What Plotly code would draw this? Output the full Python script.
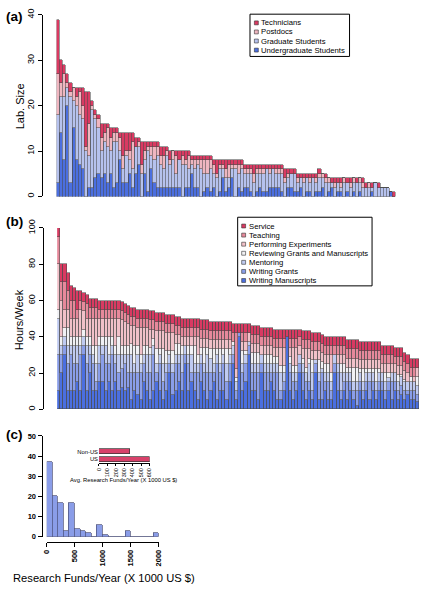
import plotly.graph_objects as go

W, H = 425, 590
FONT = "Liberation Sans, Arial, Helvetica, sans-serif"

# ---------------- Panel (a): lab size ----------------
lab_names = ["Undergraduate Students", "Graduate Students", "Postdocs", "Technicians"]
lab_colors = ["#4b6fe0", "#b6c2ee", "#efb6c0", "#d93a62"]
undergrad = [3, 14, 8, 20, 3, 15, 8, 7, 6, 0,
             2, 2, 4, 5, 4, 5, 3, 5, 2, 3,
             8, 3, 3, 5, 2, 5, 7, 0, 5, 1,
             6, 3, 2, 2, 2, 2, 2, 2, 2, 2,
             0, 2, 2, 5, 2, 2, 0, 1, 2, 1,
             2, 0, 1, 4, 1, 2, 4, 0, 2, 1,
             2, 2, 1, 0, 1, 2, 1, 1, 2, 2,
             2, 2, 1, 0, 2, 2, 1, 1, 2, 0,
             1, 1, 0, 1, 1, 2, 0, 1, 2, 0,
             1, 1, 0, 1, 0, 1, 0, 1, 0, 0,
             0, 1, 0, 0, 0, 0, 0, 1, 0]
graduate = [15, 8, 14, 4, 19, 6, 12, 11, 11, 10,
            7, 17, 13, 10, 6, 7, 8, 5, 10, 9,
            2, 3, 6, 3, 4, 6, 4, 5, 3, 9,
            3, 5, 7, 5, 4, 7, 5, 6, 3, 6,
            7, 5, 4, 2, 4, 5, 6, 4, 3, 5,
            3, 4, 5, 2, 3, 2, 2, 6, 3, 5,
            3, 3, 4, 3, 4, 3, 4, 5, 3, 4,
            3, 3, 4, 3, 2, 3, 4, 2, 2, 3,
            3, 2, 4, 2, 3, 2, 3, 2, 1, 2,
            2, 1, 3, 2, 2, 2, 3, 2, 2, 2,
            2, 1, 3, 2, 2, 2, 2, 0, 0]
postdocs = [9, 3, 5, 1, 1, 3, 2, 5, 3, 1,
            7, 1, 1, 2, 3, 2, 4, 3, 2, 2,
            3, 3, 1, 2, 6, 0, 1, 2, 2, 1,
            2, 3, 2, 2, 3, 1, 1, 2, 4, 0,
            2, 1, 3, 1, 2, 1, 2, 3, 3, 2,
            2, 1, 1, 1, 2, 3, 1, 1, 2, 1,
            1, 1, 1, 2, 1, 1, 1, 0, 1, 0,
            1, 1, 1, 1, 1, 0, 0, 1, 0, 1,
            0, 1, 0, 1, 1, 1, 1, 1, 0, 1,
            0, 1, 1, 0, 1, 1, 0, 1, 1, 0,
            1, 0, 0, 0, 0, 0, 0, 0, 0]
technicians = [12, 5, 2, 2, 2, 0, 2, 1, 4, 12,
               7, 1, 1, 1, 3, 2, 1, 2, 1, 1,
               1, 5, 4, 4, 2, 2, 1, 5, 2, 1,
               1, 1, 1, 2, 2, 1, 2, 0, 1, 2,
               1, 2, 1, 1, 1, 1, 1, 1, 1, 1,
               1, 3, 1, 1, 2, 1, 1, 1, 1, 1,
               1, 1, 1, 2, 1, 1, 1, 1, 1, 1,
               1, 1, 1, 2, 1, 1, 1, 1, 1, 1,
               1, 1, 1, 1, 1, 0, 1, 0, 1, 1,
               1, 1, 0, 1, 1, 0, 1, 0, 1, 1,
               0, 1, 0, 1, 0, 0, 0, 0, 1]
lab_ticks = [0, 10, 20, 30, 40]

# ---------------- Panel (b): hours per week ----------------
hour_names = ["Writing Manuscripts", "Writing Grants", "Mentoring",
              "Reviewing Grants and Manuscripts", "Performing Experiments",
              "Teaching", "Service"]
hour_colors = ["#4b6fe0", "#8a9ee9", "#c0cbf1", "#f1f1f4", "#f1c1c9", "#e6899b", "#d93a62"]
writing_manuscripts = [10, 20, 30, 10, 10, 10, 15, 10, 30, 10,
                       20, 10, 10, 15, 15, 10, 15, 10, 15, 10,
                       12, 10, 12, 5, 10, 8, 5, 15, 10, 5,
                       10, 15, 10, 5, 10, 20, 8, 10, 15, 10,
                       25, 10, 15, 10, 5, 15, 10, 5, 10, 15,
                       5, 10, 10, 5, 15, 25, 5, 40, 10, 15,
                       30, 10, 10, 5, 20, 10, 10, 15, 10, 5,
                       5, 10, 40, 10, 5, 10, 20, 10, 5, 10,
                       5, 20, 5, 5, 10, 5, 5, 20, 10, 5,
                       10, 5, 10, 5, 2, 10, 5, 10, 5, 10,
                       5, 10, 10, 5, 10, 5, 10, 5, 8, 5,
                       8, 5, 5, 4]
writing_grants = [20, 10, 5, 15, 20, 15, 10, 20, 5, 15,
                  10, 15, 5, 10, 15, 15, 10, 20, 10, 10,
                  10, 15, 8, 15, 10, 12, 15, 10, 10, 15,
                  20, 5, 15, 10, 10, 5, 12, 15, 10, 10,
                  5, 15, 5, 10, 15, 10, 10, 15, 10, 5,
                  20, 10, 15, 10, 10, 5, 5, 2, 10, 10,
                  5, 10, 10, 15, 5, 10, 10, 5, 10, 15,
                  5, 5, 0, 10, 10, 5, 5, 10, 10, 5,
                  5, 5, 10, 15, 5, 10, 5, 5, 10, 5,
                  5, 10, 5, 5, 8, 5, 5, 5, 10, 5,
                  5, 5, 5, 5, 5, 10, 5, 5, 5, 5,
                  2, 5, 5, 4]
mentoring = [20, 5, 5, 10, 5, 10, 10, 5, 5, 10,
             5, 5, 10, 10, 5, 10, 5, 5, 5, 10,
             8, 5, 10, 10, 5, 10, 5, 5, 10, 10,
             5, 5, 5, 10, 5, 5, 5, 5, 5, 10,
             5, 5, 10, 5, 5, 5, 5, 10, 8, 5,
             5, 5, 5, 10, 5, 5, 5, 0, 5, 5,
             2, 5, 5, 5, 5, 5, 5, 5, 5, 5,
             10, 5, 0, 5, 5, 5, 5, 5, 5, 10,
             10, 2, 5, 2, 5, 5, 5, 5, 5, 10,
             5, 5, 5, 5, 5, 5, 5, 5, 5, 5,
             5, 5, 5, 5, 2, 5, 5, 5, 5, 5,
             5, 5, 5, 5]
reviewing = [5, 5, 5, 10, 5, 5, 5, 5, 4, 5,
             5, 5, 10, 5, 5, 5, 10, 5, 5, 10,
             5, 5, 5, 6, 10, 5, 5, 5, 5, 4,
             4, 8, 3, 8, 7, 2, 7, 6, 6, 5,
             0, 5, 5, 10, 5, 4, 9, 4, 5, 8,
             3, 8, 3, 8, 3, 2, 2, 0, 7, 2,
             0, 6, 6, 6, 0, 5, 5, 5, 4, 4,
             4, 4, 0, 4, 4, 4, 0, 3, 3, 3,
             7, 0, 7, 4, 5, 5, 5, 0, 0, 5,
             5, 3, 3, 8, 8, 2, 7, 2, 2, 2,
             7, 2, 0, 5, 3, 0, 0, 4, 1, 1,
             0, 3, 0, 5]
experiments = [25, 20, 10, 10, 10, 10, 10, 15, 10, 10,
               10, 15, 15, 10, 10, 10, 10, 10, 15, 10,
               14, 13, 12, 10, 11, 10, 15, 10, 10, 10,
               5, 10, 10, 10, 10, 10, 10, 5, 5, 5,
               5, 5, 5, 5, 10, 5, 5, 5, 5, 5,
               5, 5, 5, 5, 5, 0, 5, 0, 5, 5,
               5, 5, 5, 5, 5, 5, 5, 5, 5, 5,
               10, 10, 0, 5, 10, 10, 5, 5, 10, 5,
               5, 5, 5, 5, 5, 5, 10, 0, 5, 5,
               5, 5, 5, 5, 5, 5, 5, 5, 5, 5,
               5, 5, 5, 5, 5, 5, 5, 5, 5, 5,
               5, 0, 3, 5]
teaching = [15, 10, 15, 10, 10, 10, 5, 5, 5, 8,
            6, 6, 6, 5, 5, 5, 5, 5, 5, 5,
            5, 5, 5, 5, 5, 5, 5, 5, 5, 5,
            5, 5, 5, 5, 5, 5, 5, 5, 5, 5,
            5, 5, 5, 5, 5, 5, 5, 5, 5, 5,
            5, 5, 5, 5, 5, 5, 20, 0, 5, 5,
            0, 5, 5, 5, 5, 5, 5, 5, 5, 5,
            5, 5, 0, 5, 5, 5, 5, 5, 5, 5,
            5, 5, 5, 5, 5, 5, 5, 5, 5, 5,
            5, 5, 5, 5, 5, 5, 5, 5, 5, 5,
            5, 5, 5, 5, 5, 5, 4, 5, 5, 5,
            5, 5, 5, 0]
service = [5, 10, 10, 10, 8, 7, 10, 5, 5, 5,
           5, 5, 5, 5, 5, 5, 5, 5, 5, 5,
           5, 5, 5, 5, 5, 5, 5, 5, 5, 5,
           5, 5, 5, 5, 5, 5, 5, 5, 5, 5,
           5, 5, 5, 5, 5, 5, 5, 5, 5, 5,
           5, 5, 5, 5, 5, 5, 5, 5, 5, 5,
           5, 5, 5, 5, 5, 5, 5, 5, 5, 5,
           5, 5, 4, 5, 5, 5, 4, 5, 5, 5,
           5, 5, 5, 5, 5, 5, 5, 5, 5, 5,
           5, 5, 5, 5, 5, 5, 5, 5, 5, 5,
           5, 5, 5, 5, 5, 5, 5, 5, 5, 5,
           5, 5, 5, 5]
hour_ticks = [0, 20, 40, 60, 80, 100]

# ---------------- Panel (c): research funds ----------------
fund_bin_left = [0, 100, 200, 300, 400, 500, 600, 700, 800, 900,
                 1000, 1100, 1200, 1300, 1400, 1500, 1600, 1700, 1800, 1900]
fund_counts = [37, 20, 17, 3, 17, 4, 3, 2, 0, 6, 1, 0, 0, 0, 3, 0, 0, 0, 0, 2]
fund_xticks = [0, 500, 1000, 1500, 2000]
fund_yticks = [0, 10, 20, 30, 40, 50]
region_names = ["US", "Non-US"]
region_avg_funds = [600, 370]
region_xticks = [0, 100, 200, 300, 400, 500, 600]


def px(x):
    return x / W


def py(y):
    return 1 - y / H


fig = go.Figure()
edge = dict(color="#4a4a4a", width=0.55)

xa = list(range(len(undergrad)))
for name, vals, col in zip(lab_names, [undergrad, graduate, postdocs, technicians], lab_colors):
    fig.add_trace(go.Bar(x=xa, y=vals, name=name, marker=dict(color=col, line=edge),
                         xaxis="x", yaxis="y", showlegend=False))

xb = list(range(len(writing_manuscripts)))
for name, vals, col in zip(hour_names,
                           [writing_manuscripts, writing_grants, mentoring, reviewing,
                            experiments, teaching, service], hour_colors):
    fig.add_trace(go.Bar(x=xb, y=vals, name=name, marker=dict(color=col, line=edge),
                         xaxis="x2", yaxis="y2", showlegend=False))

fig.add_trace(go.Bar(x=fund_bin_left, y=fund_counts, width=100, offset=0,
                     marker=dict(color="#8a9de8", line=dict(color="#4a4f78", width=0.7)),
                     xaxis="x3", yaxis="y3", showlegend=False))

fig.add_trace(go.Bar(y=region_names, x=region_avg_funds, orientation="h", width=0.62,
                     marker=dict(color="#d8416a", line=dict(color="#333", width=0.7)),
                     xaxis="x4", yaxis="y4", showlegend=False))

tickfont = dict(family=FONT, size=9, color="black")
boldtick = dict(family=FONT, size=7.5, color="black", weight="bold")
axis_common = dict(showgrid=False, zeroline=False, showline=True, linecolor="black",
                   linewidth=1, ticks="outside", ticklen=4, tickcolor="black", tickwidth=1)

fig.update_layout(
    width=W, height=H, autosize=False,
    margin=dict(l=0, r=0, t=0, b=0, pad=0),
    paper_bgcolor="white", plot_bgcolor="white",
    barmode="stack", bargap=0,
    font=dict(family=FONT, color="black"),
    xaxis=dict(domain=[px(52.7), px(399.3)], range=[-0.5, len(undergrad) - 0.5],
               visible=False, anchor="y"),
    yaxis=dict(domain=[py(192), py(6)], range=[0, 40], anchor="free", position=px(37.5),
               tickvals=lab_ticks, tickangle=-90, tickfont=tickfont, **axis_common),
    xaxis2=dict(domain=[px(53.3), px(423.3)], range=[-0.5, len(writing_manuscripts) - 0.5],
                visible=False, anchor="y2"),
    yaxis2=dict(domain=[py(410), py(224.3)], range=[0, 100], anchor="free", position=px(38.5),
                tickvals=hour_ticks, tickangle=-90, tickfont=tickfont, **axis_common),
    xaxis3=dict(domain=[px(42.7), px(157.3)], range=[0, 2000], anchor="free",
                position=py(545.7), tickvals=fund_xticks, tickangle=-90,
                tickfont=boldtick, **axis_common),
    yaxis3=dict(domain=[py(540.5), py(437.3)], range=[0, 50], anchor="free",
                position=px(37.3), tickvals=fund_yticks,
                tickfont=boldtick, **axis_common),
    xaxis4=dict(domain=[px(96), px(147.7)], range=[0, 600], anchor="free",
                position=py(465), tickvals=region_xticks, tickangle=-90,
                tickfont=dict(family=FONT, size=5.5, color="black"),
                showgrid=False, zeroline=False, showline=True, linecolor="black",
                linewidth=0.8, ticks="outside", ticklen=2, tickcolor="black", tickwidth=0.8),
    yaxis4=dict(domain=[py(465), py(449.6)], range=[-0.5, 1.5], anchor="x4",
                type="category", categoryarray=region_names, categoryorder="array",
                showgrid=False, zeroline=False, showline=False, ticks="",
                tickfont=dict(family=FONT, size=5.8, color="black")),
)

ann = []


def text(x, y, s, size, bold=False, xanchor="left", angle=0):
    ann.append(dict(x=px(x), y=py(y), xref="paper", yref="paper", text=f"<b>{s}</b>" if bold else s,
                    showarrow=False, xanchor=xanchor, yanchor="middle", textangle=angle,
                    borderpad=0,
                    font=dict(family=FONT, size=size, color="black")))


text(0, 8, "(a)", 13.5, bold=True)
text(0, 218, "(b)", 13.5, bold=True)
text(0, 436, "(c)", 13.5, bold=True)
text(15, 100, "Lab. Size", 11, xanchor="center", angle=-90)
text(15, 318, "Hours/Week", 11, xanchor="center", angle=-90)
text(101.5, 583, "Research Funds/Year (X 1000 US $)", 11.2, xanchor="center")
text(121.5, 482.3, "Avg. Research Funds/Year (X 1000 US $)", 5.8, xanchor="center")

shapes = []
LEG_FONT = 7.7


def legend(box, x_sw, x_txt, y_rows, names, colors):
    x0, y0, x1, y1 = box
    shapes.append(dict(type="rect", xref="paper", yref="paper", x0=px(x0), x1=px(x1),
                       y0=py(y1), y1=py(y0), line=dict(color="black", width=1),
                       fillcolor="white", layer="above"))
    for yy, nm, col in zip(y_rows, names, colors):
        shapes.append(dict(type="rect", xref="paper", yref="paper", x0=px(x_sw), x1=px(x_sw + 4),
                           y0=py(yy + 2), y1=py(yy - 2), line=dict(color="#333", width=0.6),
                           fillcolor=col, layer="above"))
        text(x_txt, yy, nm, LEG_FONT)


legend((250.3, 5.3, 352, 48.6), 254.8, 260.5, [14.2, 23.5, 32.8, 42.1],
       lab_names[::-1], lab_colors[::-1])
legend((237.7, 213.3, 375, 283.6), 241.8, 248.5,
       [222.3, 231.6, 240.9, 250.2, 259.5, 268.8, 278.1],
       hour_names[::-1], hour_colors[::-1])

fig.update_layout(annotations=ann, shapes=shapes)

fig.write_html("out.html", config={"displayModeBar": False},
               post_script="document.body.style.margin='0';")
